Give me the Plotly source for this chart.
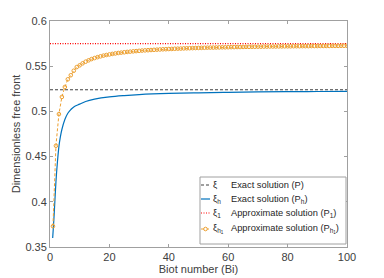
import plotly.graph_objects as go

# ---- data ----
xi_exact = 0.524          # exact solution (P)
xi_1_approx = 0.575       # approximate solution (P1)

bi_h = [0.9, 1.2, 1.5, 2, 2.5, 3, 3.5, 4, 5, 6, 7, 8, 10, 12, 15, 20, 25, 30,
        40, 50, 60, 70, 80, 90, 100]
xi_h = [0.360, 0.375, 0.392, 0.422, 0.444, 0.461, 0.472, 0.480, 0.491, 0.498,
        0.502, 0.505, 0.508, 0.511, 0.5135, 0.516, 0.5175, 0.5186, 0.5199,
        0.5206, 0.5211, 0.5215, 0.5218, 0.5220, 0.5222]

bi_h1 = list(range(1, 101))
xi_h1 = [0.373, 0.462, 0.497, 0.516, 0.527, 0.5355, 0.540, 0.545, 0.549, 0.551,
         0.5532, 0.555, 0.5565, 0.5579, 0.559, 0.560, 0.5609, 0.5617, 0.5624, 0.563,
         0.5636, 0.5641, 0.5646, 0.565, 0.5654, 0.5658, 0.5661, 0.5664, 0.5667, 0.567,
         0.5673, 0.5675, 0.5677, 0.5679, 0.5681, 0.5683, 0.5685, 0.5687, 0.5688, 0.569,
         0.5691, 0.5693, 0.5694, 0.5695, 0.5697, 0.5698, 0.5699, 0.570, 0.5701, 0.5702,
         0.5703, 0.5704, 0.5705, 0.5706, 0.5706, 0.5707, 0.5708, 0.5709, 0.5709, 0.571,
         0.5711, 0.5711, 0.5712, 0.5712, 0.5713, 0.5714, 0.5714, 0.5715, 0.5715, 0.5716,
         0.5716, 0.5717, 0.5717, 0.5718, 0.5718, 0.5718, 0.5719, 0.5719, 0.572, 0.572,
         0.572, 0.5721, 0.5721, 0.5721, 0.5722, 0.5722, 0.5722, 0.5723, 0.5723, 0.5723,
         0.5724, 0.5724, 0.5724, 0.5724, 0.5725, 0.5725, 0.5725, 0.5726, 0.5726, 0.5726]

x_range = [0, 100]
y_range = [0.35, 0.6]
x_ticks = [0, 20, 40, 60, 80, 100]
y_ticks = [0.35, 0.4, 0.45, 0.5, 0.55, 0.6]
y_ticktext = ["0.35", "0.4", "0.45", "0.5", "0.55", "0.6"]

legend_symbols = ["ξ", "ξ<sub>h</sub>", "ξ<sub>1</sub>", "ξ<sub>h<sub>1</sub></sub>"]
legend_texts = ["Exact solution (P)",
                "Exact solution (P<sub>h</sub>)",
                "Approximate solution (P<sub>1</sub>)",
                "Approximate solution (P<sub>h<sub>1</sub></sub>)"]

orange = "#EDA030"
colors = ["#404040", "#0072BD", "#FF0000", orange]
dashes = ["3px,2px", "solid", "1px,1.5px", "3px,2px"]
widths = [1.1, 1.2, 1.1, 1.0]

W, H = 384, 278
L, R, T, B = 50, 37, 21, 31
PW, PH = W - L - R, H - T - B


def px(x):
    return (x - L) / PW


def py(y):
    return (H - B - y) / PH


fig = go.Figure()
fig.add_trace(go.Scatter(x=x_range, y=[xi_exact, xi_exact], mode="lines",
                         line=dict(color=colors[0], dash=dashes[0], width=widths[0])))
fig.add_trace(go.Scatter(x=bi_h, y=xi_h, mode="lines", line_shape="spline",
                         line=dict(color=colors[1], width=widths[1])))
fig.add_trace(go.Scatter(x=x_range, y=[xi_1_approx, xi_1_approx], mode="lines",
                         line=dict(color=colors[2], dash=dashes[2], width=widths[2])))
fig.add_trace(go.Scatter(x=bi_h1, y=xi_h1, mode="lines+markers",
                         line=dict(color=orange, dash=dashes[3], width=widths[3]),
                         marker=dict(symbol="circle-open", size=3.6,
                                     color=orange, line=dict(width=1))))

# ---- legend box (built from layout shapes/annotations) ----
shapes = [dict(type="rect", xref="paper", yref="paper",
               x0=px(200), x1=px(346), y0=py(244), y1=py(177),
               line=dict(color="#A0A0A0", width=1), fillcolor="white", layer="above")]
annotations = []
rows = [185, 199, 213, 229]
for i, yy in enumerate(rows):
    shapes.append(dict(type="line", xref="paper", yref="paper",
                       x0=px(201), x1=px(210), y0=py(yy), y1=py(yy),
                       line=dict(color=colors[i], width=widths[i], dash=dashes[i]),
                       layer="above"))
    annotations.append(dict(xref="paper", yref="paper", x=px(211), y=py(yy),
                            text=legend_symbols[i], showarrow=False,
                            xanchor="left", yanchor="middle",
                            font=dict(size=9.3, color="#262626")))
    annotations.append(dict(xref="paper", yref="paper", x=px(229), y=py(yy),
                            text=legend_texts[i], showarrow=False,
                            xanchor="left", yanchor="middle",
                            font=dict(size=9.3, color="#262626")))
shapes.append(dict(type="circle", xref="paper", yref="paper",
                   x0=px(203.7), x1=px(207.3), y0=py(rows[3] + 1.8), y1=py(rows[3] - 1.8),
                   line=dict(color=orange, width=1), fillcolor="white", layer="above"))

axis_common = dict(showline=True, linecolor="#A0A0A0", linewidth=1,
                   mirror="ticks", ticks="inside", ticklen=3,
                   tickcolor="#A0A0A0", showgrid=False, zeroline=False,
                   automargin=False,
                   tickfont=dict(family="Liberation Sans", size=11,
                                 color="#404040"))

fig.update_layout(
    width=W, height=H,
    margin=dict(l=L, r=R, t=T, b=B),
    paper_bgcolor="white", plot_bgcolor="white",
    font=dict(family="Liberation Sans", size=10, color="#262626"),
    xaxis=dict(range=x_range, tickvals=x_ticks, ticktext=[str(v) for v in x_ticks],
               title=dict(text="Biot number (Bi)", standoff=1,
                          font=dict(size=11, color="#404040")),
               **axis_common),
    yaxis=dict(range=y_range, tickvals=y_ticks, ticktext=y_ticktext,
               title=dict(text="Dimensionless free front", standoff=2,
                          font=dict(size=11, color="#404040")),
               **axis_common),
    shapes=shapes, annotations=annotations,
    showlegend=False,
)

fig.write_html("out.html", config={"displayModeBar": False},
               post_script="document.body.style.margin='0px';")
